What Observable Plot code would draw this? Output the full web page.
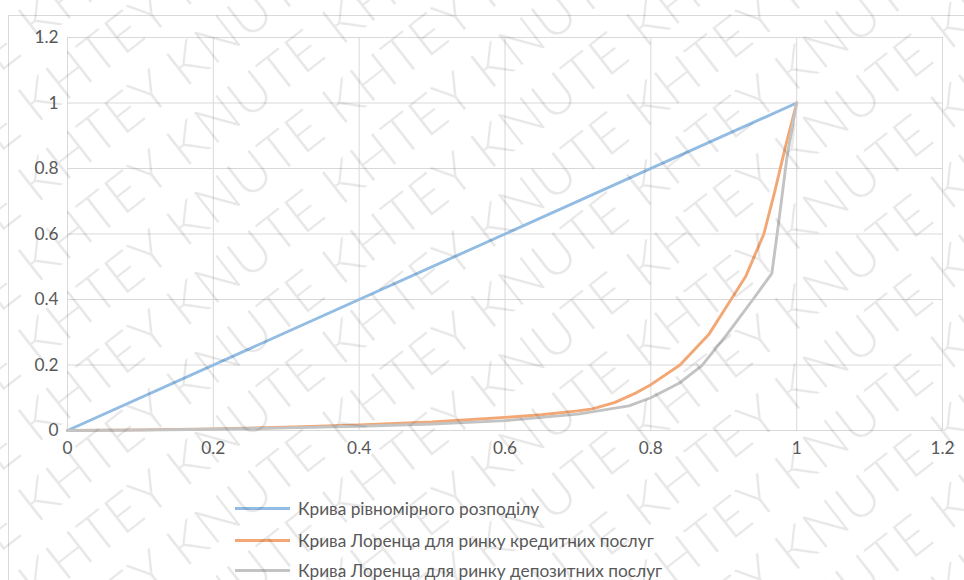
<!DOCTYPE html>
<html>
<head>
<meta charset="utf-8">
<script src="https://cdn.jsdelivr.net/npm/d3@7"></script>
<script src="https://cdn.jsdelivr.net/npm/@observablehq/plot@0.6"></script>
<style>
  html, body { margin: 0; padding: 0; background: #ffffff; }
  #wrap { position: relative; width: 964px; height: 580px; overflow: hidden; font-family: Lato, "Open Sans", sans-serif; }
  #frame { position: absolute; left: 8px; top: 15px; width: 1000px; height: 700px; border-left: 1px solid #d9d9d9; border-top: 1px solid #d9d9d9; }
  #chart { position: absolute; left: 0; top: 0; }
  #legend { position: absolute; left: 0; top: 0; width: 964px; height: 580px; }
  .item { position: absolute; left: 235px; height: 30px; display: flex; align-items: center; font-size: 17.3px; color: #595959; }
  .swatch { width: 55px; height: 3px; margin-right: 8px; }
  #wm { position: absolute; left: 0; top: 0; width: 964px; height: 580px; pointer-events: none; overflow: hidden; }
  .wmrow { position: absolute; white-space: nowrap; font-family: Lato, sans-serif; font-weight: 300; font-size: 54px; color: rgba(0,0,0,0.09); transform-origin: 0 0; letter-spacing: 1px; }
</style>
</head>
<body>
<div id="wrap">
  <div id="frame"></div>
  <div id="chart"></div>
  <div id="legend"></div>
  <div id="wm"></div>
</div>
<script>
// ---- data ----
const xTicks = [0, 0.2, 0.4, 0.6, 0.8, 1, 1.2];
const yTicks = [0, 0.2, 0.4, 0.6, 0.8, 1, 1.2];

const seriesNames = [
  "Крива рівномірного розподілу",
  "Крива Лоренца для ринку кредитних послуг",
  "Крива Лоренца для ринку депозитних послуг"
];
const seriesColors = ["#92bce3", "#f2a774", "#c3c3c3"];

const uniformX = [0, 1];
const uniformY = [0, 1];

const creditX = [0, 0.1, 0.2, 0.3, 0.4, 0.5, 0.6, 0.65, 0.7, 0.72, 0.75, 0.78, 0.8, 0.84, 0.88, 0.91, 0.93, 0.955, 0.97, 0.985, 1];
const creditY = [0, 0.002, 0.005, 0.01, 0.017, 0.026, 0.04, 0.048, 0.06, 0.066, 0.085, 0.115, 0.14, 0.2, 0.295, 0.4, 0.47, 0.6, 0.73, 0.87, 1];

const depositX = [0, 0.1, 0.2, 0.3, 0.4, 0.5, 0.6, 0.7, 0.77, 0.8, 0.84, 0.87, 0.905, 0.94, 0.966, 0.975, 0.987, 1];
const depositY = [0, 0.001, 0.004, 0.008, 0.013, 0.02, 0.03, 0.05, 0.075, 0.1, 0.146, 0.198, 0.295, 0.4, 0.48, 0.63, 0.84, 1];

const seriesX = [uniformX, creditX, depositX];
const seriesY = [uniformY, creditY, depositY];

const rows = [];
seriesX.forEach((xs, s) => xs.forEach((x, i) => rows.push({series: seriesNames[s], x, y: seriesY[s][i]})));

const chart = Plot.plot({
  width: 964,
  height: 465,
  marginLeft: 67,
  marginRight: 22,
  marginTop: 37,
  marginBottom: 35,
  style: { fontFamily: "Lato, 'Open Sans', sans-serif", fontSize: "17.3px", color: "#595959", background: "transparent", overflow: "visible" },
  x: { domain: [0, 1.2], label: null },
  y: { domain: [0, 1.2], label: null },
  color: { domain: seriesNames, range: seriesColors },
  marks: [
    Plot.gridX(xTicks, { stroke: "#d9d9d9", strokeOpacity: 1, strokeWidth: 1 }),
    Plot.gridY(yTicks, { stroke: "#d9d9d9", strokeOpacity: 1, strokeWidth: 1 }),
    Plot.axisX(xTicks, { tickSize: 0, tickPadding: 11, tickFormat: d => String(d), fill: "#595959", label: null }),
    Plot.axisY(yTicks, { tickSize: 0, tickPadding: 9, tickFormat: d => String(d), fill: "#595959", label: null }),
    Plot.line(rows, { x: "x", y: "y", z: "series", stroke: "series", strokeWidth: 2.9, strokeLinejoin: "round", strokeLinecap: "round" })
  ]
});
document.getElementById("chart").appendChild(chart);

// ---- legend ----
const legend = document.getElementById("legend");
const legendTops = [493, 525, 555];
seriesNames.forEach((name, i) => {
  const it = document.createElement("div");
  it.className = "item";
  it.style.top = legendTops[i] + "px";
  const sw = document.createElement("div");
  sw.className = "swatch";
  sw.style.background = seriesColors[i];
  const tx = document.createElement("span");
  tx.textContent = name;
  it.appendChild(sw);
  it.appendChild(tx);
  legend.appendChild(it);
});

// ---- watermark ----
const wm = document.getElementById("wm");
const wmText = "KHTEY KNUTE ".repeat(12);
for (let k = -6; k < 22; k++) {
  const r = document.createElement("div");
  r.className = "wmrow";
  r.textContent = wmText;
  r.style.left = "-300px";
  r.style.top = (k * 80) + "px";
  r.style.transform = "rotate(-38deg)";
  wm.appendChild(r);
}
</script>
</body>
</html>
